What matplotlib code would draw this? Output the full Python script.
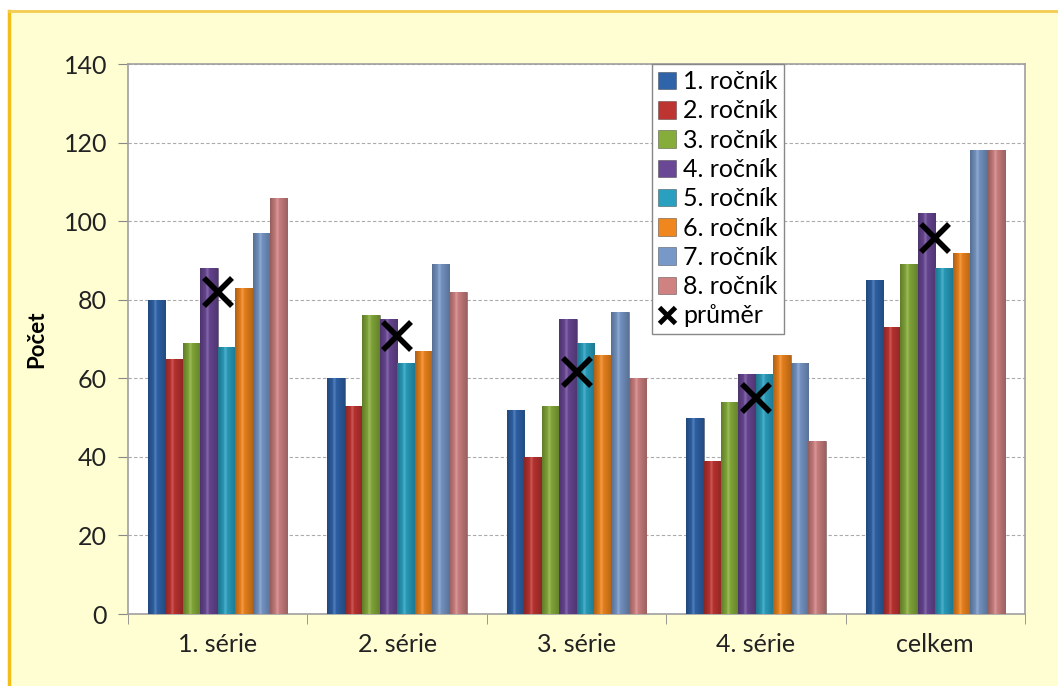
import matplotlib
matplotlib.use('Agg')
import matplotlib.pyplot as plt
import matplotlib.colors as mcolors
from matplotlib.patches import Rectangle
from matplotlib.lines import Line2D
import numpy as np

plt.rcParams['font.family'] = ['Lato', 'DejaVu Sans']

# data
categories = ['1. série', '2. série', '3. série', '4. série', 'celkem']
series_names = ['1. ročník', '2. ročník', '3. ročník', '4. ročník',
                '5. ročník', '6. ročník', '7. ročník', '8. ročník']
rocnik1 = [80, 60, 52, 50, 85]
rocnik2 = [65, 53, 40, 39, 73]
rocnik3 = [69, 76, 53, 54, 89]
rocnik4 = [88, 75, 75, 61, 102]
rocnik5 = [68, 64, 69, 61, 88]
rocnik6 = [83, 67, 66, 66, 92]
rocnik7 = [97, 89, 77, 64, 118]
rocnik8 = [106, 82, 60, 44, 118]
prumer = [82.0, 70.75, 61.5, 54.9, 95.6]

values = [rocnik1, rocnik2, rocnik3, rocnik4, rocnik5, rocnik6, rocnik7, rocnik8]
colors = ['#2F64AA', '#BE3431', '#86AC3A', '#6A4896',
          '#2AA0C0', '#F0861E', '#7898C8', '#D08282']

fig = plt.figure(figsize=(10.58, 6.86), dpi=100)
fig.patch.set_facecolor('white')

# yellow chart panel with orange border on the top/left
panel = Rectangle((9 / 1058, 0), 1 - 9 / 1058, 1 - 11 / 686,
                  transform=fig.transFigure, facecolor='#FFFDD2',
                  edgecolor='none', zorder=-10)
fig.add_artist(panel)
fig.add_artist(Line2D([9 / 1058, 9 / 1058], [0, 1 - 11 / 686],
                      transform=fig.transFigure, color='#F2BE1A', lw=2.5, zorder=-5))
fig.add_artist(Line2D([9 / 1058, 1], [1 - 11 / 686, 1 - 11 / 686],
                      transform=fig.transFigure, color='#F4CC50', lw=2, zorder=-5))

ax = fig.add_axes([128 / 1058, 1 - 614 / 686, (1025 - 128) / 1058, (614 - 64) / 686])
ax.set_facecolor('white')

x = np.arange(len(categories))
n = len(values)
width = 0.097
grad = np.concatenate([np.linspace(0.72, 1.0, 40), np.linspace(1.0, 0.75, 60)])

handles = []
for i, (name, vals, col) in enumerate(zip(series_names, values, colors)):
    offs = (i - (n - 1) / 2) * width
    bars = ax.bar(x + offs, vals, width, color=col, edgecolor=mcolors.to_rgba('#333333', 0.5),
                  linewidth=0.6, label=name, zorder=3)
    handles.append(bars)
    base = np.array(mcolors.to_rgb(col))
    img = (base[None, :] * grad[:, None])
    img = np.clip(img + (1 - base[None, :]) * 0.15 * (grad[:, None] > 0.97), 0, 1)
    for b in bars:
        im = ax.imshow(img[None, :, :], extent=[b.get_x(), b.get_x() + b.get_width(), 0, b.get_height()],
                       aspect='auto', zorder=3.5, interpolation='bilinear')
        im.set_clip_path(b)

ax.plot(x, prumer, linestyle='none', marker='x', markersize=20, markeredgewidth=4,
        color='black', zorder=5)
handles.append(Line2D([], [], linestyle='none', marker='x', markersize=12,
                      markeredgewidth=3.5, color='black'))

ax.set_xlim(-0.5, len(categories) - 0.5)
ax.set_ylim(0, 140)
ax.set_yticks(np.arange(0, 141, 20))
ax.set_xticks(x)
ax.set_xticklabels(categories)
ax.set_xticks(np.arange(-0.5, len(categories), 1), minor=True)
ax.tick_params(axis='x', which='major', length=0, pad=14, labelsize=18, colors='#222222')
ax.tick_params(axis='x', which='minor', length=7, color='#888888', direction='out')
ax.tick_params(axis='y', length=7, color='#888888', labelsize=18, pad=8, labelcolor='#222222')

ax.grid(axis='y', linestyle=(0, (3, 2)), color='#AAAAAA', linewidth=0.8, zorder=0)
ax.set_axisbelow(True)
for s in ax.spines.values():
    s.set_color('#A0A0A0')
    s.set_linewidth(1.2)

ax.set_ylabel('Počet', fontsize=16, fontweight='bold', labelpad=12)

leg = ax.legend(handles, series_names + ['průměr'], loc='upper left',
                bbox_to_anchor=(0.584, 1.0), borderaxespad=0,
                fontsize=18, frameon=True, fancybox=False, handlelength=0.7,
                handleheight=0.7, handletextpad=0.3, labelspacing=0.25,
                borderpad=0.25)
leg.get_frame().set_edgecolor('#888888')
leg.get_frame().set_linewidth(1)
leg.get_frame().set_alpha(1)
leg.set_zorder(10)

fig.savefig('out.png', dpi=100, facecolor=fig.get_facecolor())
